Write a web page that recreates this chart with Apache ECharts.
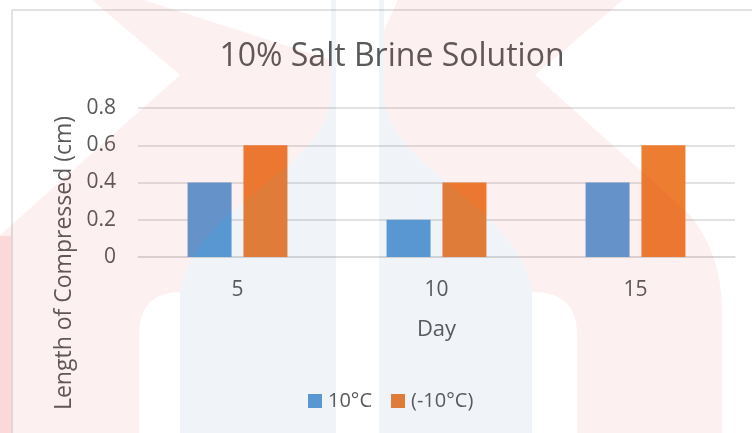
<!DOCTYPE html>
<html>
<head>
<meta charset="utf-8">
<script src="https://cdn.jsdelivr.net/npm/echarts@6/dist/echarts.min.js"></script>
<style>
  html, body { margin: 0; padding: 0; background: #ffffff; }
  #chart { width: 752px; height: 433px; }
</style>
</head>
<body>
<div id="chart"></div>
<script>
// Days on the category axis
const days = ['5', '10', '15'];
// Compressed length (cm) for each storage temperature
const warmValues = [0.4, 0.2, 0.4];
const coldValues = [0.6, 0.4, 0.6];
const seriesNames = ['10°C', '(-10°C)'];
// Value axis ticks
const yTicks = [0, 0.2, 0.4, 0.6, 0.8];

const titleText = '10% Salt Brine Solution';
const xTitle = 'Day';
const yTitle = 'Length of Compressed (cm)';

const FONT = 'Open Sans';
const TEXT = '#595959';
const GRID = '#D9D9D9';

// Faint logo over the page: pink field with holes cut out (opposite winding),
// and a light blue tent split by a white centre stripe.
const pinkPath =
  'M0,0 L752,0 L752,433 L0,433 Z ' +
  'M0,0 L0,235 L180,75 L92,0 Z ' +
  'M144,0 L331,60 L331,0 Z ' +
  'M384,0 L384,30 L398,0 Z ' +
  'M623,0 L535,75 L690,215 Q722,255 722,310 L722,433 L752,433 L752,0 Z ' +
  'M331,0 L331,95 C328,170 200,200 180,290 L180,433 L532,433 L532,290 C515,200 387,170 384,95 L384,0 Z ' +
  'M139,330 L139,433 L180,433 L180,292 Q142,292 139,330 Z ' +
  'M532,292 L532,433 L577,433 L577,330 Q574,292 534,292 Z';
const blueLeft = 'M331,0 L331,95 C328,170 200,200 180,290 L180,433 L336,433 L336,0 Z';
const blueRight = 'M379,0 L379,433 L532,433 L532,290 C515,200 387,170 384,95 L384,0 Z';

const PINK = 'rgba(230,50,50,0.075)';
const BLUE = 'rgba(60,110,170,0.08)';

const chart = echarts.init(document.getElementById('chart'), null, { renderer: 'canvas' });

chart.setOption({
  backgroundColor: '#ffffff',
  animation: false,
  color: ['#5B9BD5', '#ED7D31'],
  title: {
    text: titleText,
    left: 387,
    textAlign: 'center',
    top: 36,
    textStyle: { fontFamily: FONT, fontSize: 32, fontWeight: 'normal', color: TEXT }
  },
  legend: {
    data: seriesNames,
    left: 303,
    top: 386,
    itemWidth: 14,
    itemHeight: 14,
    itemGap: 19,
    icon: 'rect',
    textStyle: { fontFamily: FONT, fontSize: 20, color: TEXT, padding: [0, 0, 0, 1] }
  },
  grid: { left: 138, right: 17, top: 108, bottom: 176, containLabel: false },
  xAxis: {
    type: 'category',
    data: days,
    name: xTitle,
    nameLocation: 'middle',
    nameGap: 62,
    nameTextStyle: { fontFamily: FONT, fontSize: 22, color: TEXT },
    axisLine: { show: true, lineStyle: { color: GRID, width: 1.5 } },
    axisTick: { show: false },
    axisLabel: { margin: 23, fontFamily: FONT, fontSize: 21, color: TEXT }
  },
  yAxis: {
    type: 'value',
    min: yTicks[0],
    max: yTicks[yTicks.length - 1],
    interval: 0.2,
    axisLine: { show: false },
    axisTick: { show: false },
    splitLine: { lineStyle: { color: GRID, width: 1.5 } },
    axisLabel: {
      margin: 22,
      fontFamily: FONT,
      fontSize: 21,
      color: TEXT,
      formatter: v => (v === 0 ? '0' : String(Math.round(v * 10) / 10))
    }
  },
  series: [
    { name: seriesNames[0], type: 'bar', data: warmValues, barWidth: 44, barGap: '27%' },
    { name: seriesNames[1], type: 'bar', data: coldValues, barWidth: 44, barGap: '27%' },
    {
      // logo overlay drawn on top of everything
      name: 'logo',
      type: 'custom',
      coordinateSystem: 'none',
      silent: true,
      z: 20,
      data: [0],
      renderItem: () => ({
        type: 'group',
        children: [
          { type: 'path', shape: { pathData: pinkPath }, style: { fill: PINK, stroke: null, lineWidth: 0 } },
          { type: 'path', shape: { pathData: blueLeft }, style: { fill: BLUE, stroke: null, lineWidth: 0 } },
          { type: 'path', shape: { pathData: blueRight }, style: { fill: BLUE, stroke: null, lineWidth: 0 } },
          // stronger tint in the margin outside the chart frame
          { type: 'rect', shape: { x: 0, y: 236, width: 11, height: 197 }, style: { fill: 'rgba(235,60,60,0.12)', stroke: null, lineWidth: 0 } }
        ]
      })
    }
  ],
  graphic: [
    // chart frame
    {
      type: 'rect', z: -10, silent: true,
      shape: { x: 12, y: 10, width: 800, height: 500 },
      style: { fill: 'none', stroke: GRID, lineWidth: 1.5 }
    },
    // vertical axis title
    {
      type: 'text', z: 5, silent: true,
      x: 64, y: 263, rotation: Math.PI / 2,
      style: {
        text: yTitle, fontFamily: FONT, fontSize: 23, fill: TEXT,
        align: 'center', verticalAlign: 'middle'
      }
    }
  ]
});
</script>
</body>
</html>
